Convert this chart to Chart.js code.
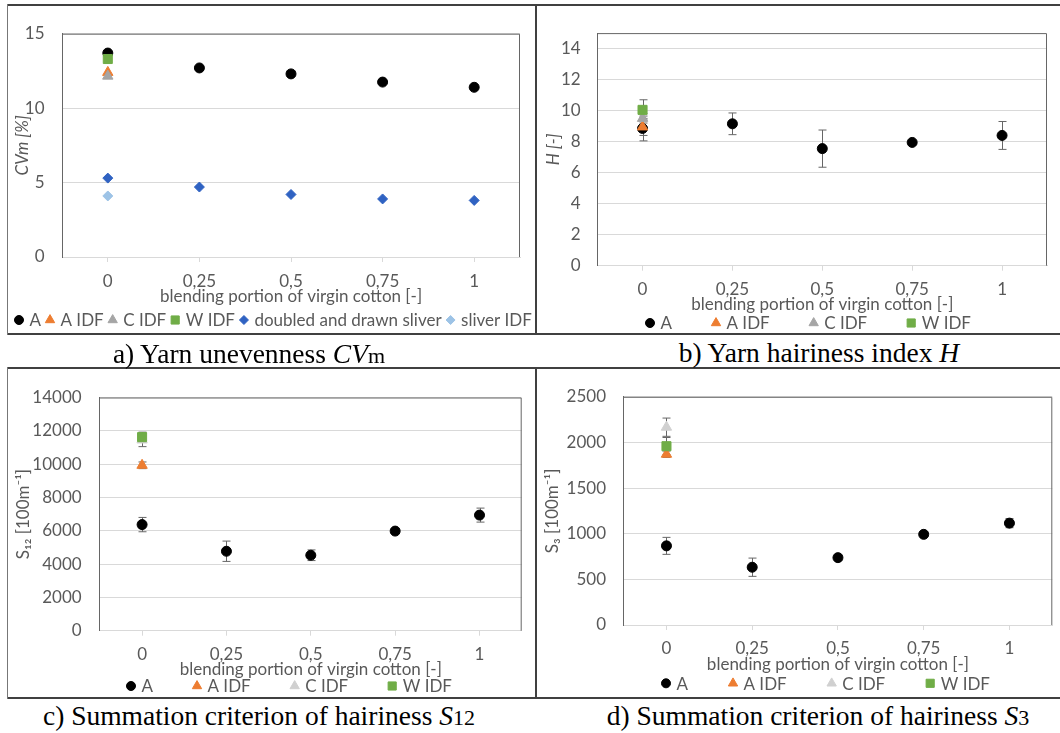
<!DOCTYPE html>
<html>
<head>
<meta charset="utf-8">
<script src="https://cdn.jsdelivr.net/npm/chart.js@4.4.1/dist/chart.umd.min.js"></script>
<style>
  body { margin: 0; background: #fff; }
  #page { position: relative; width: 1060px; height: 733px; overflow: hidden; }
  canvas { position: absolute; }
  .line { position: absolute; background: #404040; }
  .cap { position: absolute; transform: translate(-50%, -50%); white-space: nowrap;
         font-family: "Liberation Serif", "Times New Roman", serif; font-size: 27.5px; color: #000; }
  .cap small { font-size: 80%; }
</style>
</head>
<body>
<div id="page">
  <canvas id="chartA" width="527" height="330" style="left:8px;top:6px"></canvas>
  <canvas id="chartB" width="522" height="330" style="left:538px;top:6px"></canvas>
  <canvas id="chartC" width="527" height="330" style="left:8px;top:369px"></canvas>
  <canvas id="chartD" width="522" height="330" style="left:538px;top:369px"></canvas>

  <!-- frame lines of the figure table -->
  <div class="line" style="left:7px;top:4px;width:1053px;height:2px"></div>
  <div class="line" style="left:7px;top:333px;width:1053px;height:2px"></div>
  <div class="line" style="left:7px;top:367px;width:1053px;height:2px"></div>
  <div class="line" style="left:7px;top:697px;width:1053px;height:2px"></div>
  <div class="line" style="left:7px;top:4px;width:1px;height:331px;background:#777"></div>
  <div class="line" style="left:7px;top:367px;width:1px;height:332px;background:#777"></div>
  <div class="line" style="left:535px;top:4px;width:2px;height:331px"></div>
  <div class="line" style="left:535px;top:367px;width:2px;height:332px"></div>

  <div class="cap" style="left:249px;top:354px">a) Yarn unevenness <i>CV</i><small>m</small></div>
  <div class="cap" style="left:819px;top:353px">b) Yarn hairiness index <i>H</i></div>
  <div class="cap" style="left:259px;top:716px">c) Summation criterion of hairiness <i>S</i><small>12</small></div>
  <div class="cap" style="left:818px;top:716px">d) Summation criterion of hairiness <i>S</i><small>3</small></div>
</div>

<script>
// categories
const xLabels = ['0', '0,25', '0,5', '0,75', '1'];

// a) yarn unevenness CVm [%]
const cvA = [13.7, 12.7, 12.3, 11.75, 11.4];
const cvAIdf = [12.4];
const cvCIdf = [12.15];
const cvWIdf = [13.3];
const cvSliver = [5.3, 4.7, 4.2, 3.9, 3.8];
const cvSliverIdf = [4.1];

// b) hairiness index H [-]
const hA = [8.85, 9.15, 7.55, 7.95, 8.4];
const hAErr = [0.8, 0.7, 1.2, 0.1, 0.9];
const hAIdf = [8.95];
const hAIdfErr = [0.55];
const hCIdf = [9.5];
const hCIdfErr = [0.3];
const hWIdf = [10.05];
const hWIdfErr = [0.65];

// c) S12 [100m-1]
const s12A = [6370, 4770, 4530, 5980, 6940];
const s12AErr = [430, 610, 320, 150, 420];
const s12AIdf = [9930];
const s12AIdfErr = [200];
const s12CIdf = [11450];
const s12CIdfErr = [400];
const s12WIdf = [11620];
const s12WIdfErr = [300];

// d) S3 [100m-1]
const s3A = [867, 633, 738, 993, 1116];
const s3AErr = [93, 100, 25, 25, 50];
const s3AIdf = [1871];
const s3AIdfErr = [35];
const s3CIdf = [2167];
const s3CIdfErr = [100];
const s3WIdf = [1959];
const s3WIdfErr = [95];

const FONT = "Lato, 'DejaVu Sans', sans-serif";
const FS = 17;
const GREY = '#595959';

// error bars + top/right border of the plot area
const extras = {
  id: 'extras',
  beforeDatasetsDraw(chart) {
    const { ctx, chartArea: a, scales: { y } } = chart;
    ctx.save();
    ctx.strokeStyle = '#666';
    ctx.lineWidth = 1;
    ctx.beginPath();
    ctx.moveTo(a.left, a.top + 0.5);
    ctx.lineTo(a.right - 0.5, a.top + 0.5);
    ctx.lineTo(a.right - 0.5, a.bottom);
    ctx.stroke();

    chart.data.datasets.forEach((ds, i) => {
      if (!ds.errorBars) return;
      chart.getDatasetMeta(i).data.forEach((pt, j) => {
        const v = ds.data[j], e = ds.errorBars[j];
        if (v == null || !e) return;
        const x = Math.round(pt.x) + 0.5;
        const y1 = y.getPixelForValue(v - e), y2 = y.getPixelForValue(v + e);
        ctx.beginPath();
        ctx.moveTo(x, y1); ctx.lineTo(x, y2);
        ctx.moveTo(x - 4, y1); ctx.lineTo(x + 4, y1);
        ctx.moveTo(x - 4, y2); ctx.lineTo(x + 4, y2);
        ctx.stroke();
      });
    });
    ctx.restore();
  }
};

// one-row legend under the axis title (Excel style spacing)
const rowLegend = {
  id: 'rowLegend',
  afterDraw(chart, args, opts) {
    const { ctx } = chart;
    ctx.save();
    ctx.font = FS + 'px ' + FONT;
    ctx.textBaseline = 'middle';
    let x = opts.x;
    chart.data.datasets.forEach(d => {
      ctx.fillStyle = d.backgroundColor;
      ctx.strokeStyle = d.borderColor;
      ctx.lineWidth = 1;
      Chart.helpers.drawPoint(ctx, { pointStyle: d.pointStyle, radius: d.pointRadius * 0.9, borderWidth: 1 }, x + 5, opts.y);
      ctx.fillStyle = GREY;
      ctx.fillText(d.label, x + 15.5, opts.y + 1);
      x += 15.5 + ctx.measureText(d.label).width + opts.gap;
    });
    ctx.restore();
  }
};

function series(label, data, color, style, radius, err) {
  return {
    label, data,
    errorBars: err,
    showLine: false,
    backgroundColor: color, borderColor: color, borderWidth: 1,
    pointBackgroundColor: color, pointBorderColor: color, pointBorderWidth: 1,
    pointStyle: style, pointRadius: radius
  };
}

function makeChart(id, g, yOpts, datasets) {
  const c = g.canvas;
  const lh = FS * 1.2;
  const axisBottom = g.xTitleY + lh / 2;
  const xHeight = axisBottom - g.area.b;
  const yWidth = g.area.l - c.left;

  // later series are painted on top, like in Excel
  datasets.forEach((d, i) => { d.order = -i; });

  return new Chart(document.getElementById(id), {
    type: 'line',
    data: { labels: xLabels, datasets },
    plugins: [extras, rowLegend],
    options: {
      responsive: false,
      animation: false,
      layout: {
        padding: {
          left: 0,
          top: g.area.t - c.top,
          right: c.w - (g.area.r - c.left),
          bottom: c.h - (axisBottom - c.top)
        }
      },
      plugins: {
        tooltip: { enabled: false },
        legend: { display: false },
        rowLegend: { x: g.legendX - c.left, y: g.legendY - c.top, gap: g.gap }
      },
      scales: {
        x: {
          type: 'category',
          offset: true,
          grid: { drawOnChartArea: false, drawTicks: true, tickLength: 5, color: '#d9d9d9' },
          border: { color: '#d9d9d9' },
          ticks: { padding: g.tickY - g.area.b - 5 - lh / 2, color: GREY, font: { family: FONT, size: FS } },
          title: {
            display: true, text: 'blending portion of virgin cotton [-]', color: GREY,
            font: { family: FONT, size: FS },
            padding: 0
          },
          afterFit: s => { s.height = xHeight; }
        },
        y: {
          min: 0, max: yOpts.max,
          grid: { color: '#d9d9d9', drawTicks: false },
          border: { color: '#666' },
          ticks: {
            stepSize: yOpts.step, includeBounds: false,
            padding: g.area.l - g.labelRight, color: GREY,
            font: { family: FONT, size: FS },
            callback: v => String(v)
          },
          title: {
            display: true, text: yOpts.title, color: GREY,
            font: { family: FONT, size: FS, style: yOpts.italic ? 'italic' : 'normal' },
            padding: { top: g.yTitleX - c.left - lh / 2, bottom: 0 }
          },
          afterFit: s => { s.width = yWidth; }
        }
      }
    }
  });
}

makeChart('chartA', {
  canvas: { left: 8, top: 6, w: 527, h: 330 },
  area: { l: 62, r: 520, t: 17, b: 257 },
  labelRight: 44.5, yTitleX: 22.4, tickY: 282, xTitleY: 297,
  legendX: 14, legendY: 320, gap: 4
}, { max: 15, step: 5, title: 'CVm [%]', italic: true }, [
  series('A', cvA, '#000000', 'circle', 5),
  series('A IDF', cvAIdf, '#ED7D31', 'triangle', 6),
  series('C IDF', cvCIdf, '#A5A5A5', 'triangle', 6),
  series('W IDF', cvWIdf, '#70AD47', 'rect', 6.4),
  series('doubled and drawn sliver', cvSliver, '#2F62C2', 'rectRot', 5),
  series('sliver IDF', cvSliverIdf, '#9DC3E6', 'rectRot', 5)
]);

makeChart('chartB', {
  canvas: { left: 538, top: 6, w: 522, h: 330 },
  area: { l: 597.6, r: 1047, t: 16.7, b: 265.7 },
  labelRight: 580.7, yTitleX: 553.7, tickY: 290, xTitleY: 305,
  legendX: 645, legendY: 323, gap: 39
}, { max: 15, step: 2, title: 'H [-]', italic: true }, [
  series('A', hA, '#000000', 'circle', 5, hAErr),
  series('A IDF', hAIdf, '#ED7D31', 'triangle', 6, hAIdfErr),
  series('C IDF', hCIdf, '#A5A5A5', 'triangle', 6, hCIdfErr),
  series('W IDF', hWIdf, '#70AD47', 'rect', 6.4, hWIdfErr)
]);

makeChart('chartC', {
  canvas: { left: 8, top: 369, w: 527, h: 330 },
  area: { l: 99.9, r: 521.7, t: 379.3, b: 630.7 },
  labelRight: 81.6, yTitleX: 24, tickY: 655, xTitleY: 669.3,
  legendX: 126, legendY: 686, gap: 39
}, { max: 14000, step: 2000, title: 'S₁₂ [100m⁻¹]' }, [
  series('A', s12A, '#000000', 'circle', 5, s12AErr),
  series('A IDF', s12AIdf, '#ED7D31', 'triangle', 6, s12AIdfErr),
  series('C IDF', s12CIdf, '#D0D0D0', 'triangle', 6, s12CIdfErr),
  series('W IDF', s12WIdf, '#70AD47', 'rect', 6.4, s12WIdfErr)
]);

makeChart('chartD', {
  canvas: { left: 538, top: 369, w: 522, h: 330 },
  area: { l: 623.6, r: 1052.3, t: 380, b: 625 },
  labelRight: 606, yTitleX: 553, tickY: 648.3, xTitleY: 665,
  legendX: 661, legendY: 683.3, gap: 40
}, { max: 2500, step: 500, title: 'S₃ [100m⁻¹]' }, [
  series('A', s3A, '#000000', 'circle', 5, s3AErr),
  series('A IDF', s3AIdf, '#ED7D31', 'triangle', 6, s3AIdfErr),
  series('C IDF', s3CIdf, '#D0D0D0', 'triangle', 6, s3CIdfErr),
  series('W IDF', s3WIdf, '#70AD47', 'rect', 6.4, s3WIdfErr)
]);
</script>
</body>
</html>
